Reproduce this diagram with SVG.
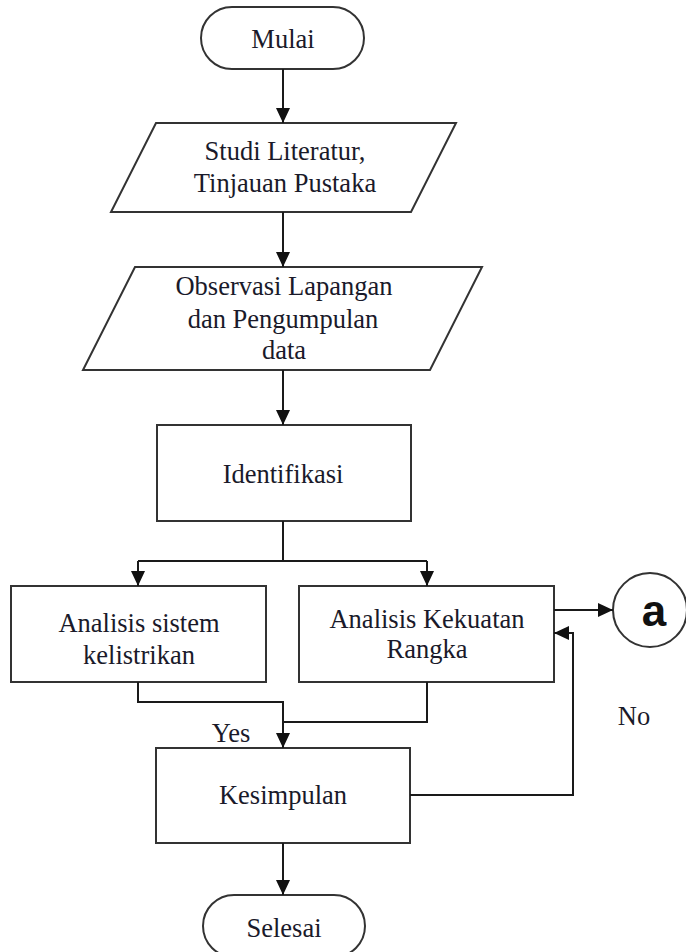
<svg xmlns="http://www.w3.org/2000/svg" width="686" height="952" viewBox="0 0 686 952">
<defs>
<marker id="ah" markerUnits="userSpaceOnUse" markerWidth="15" markerHeight="14" refX="15" refY="7" orient="auto">
<path d="M0,0 L15,7 L0,14 z" fill="#111"/>
</marker>
<style>
.s{fill:#fff;stroke:#333;stroke-width:2}
.t{font-family:"Liberation Serif","Times New Roman",Tinos,serif;font-size:26.5px;fill:#1a1a2a;text-anchor:middle}
.c{fill:none;stroke:#1a1a1a;stroke-width:2}
.a{marker-end:url(#ah)}
</style>
</defs>
<rect width="686" height="952" fill="#fff"/>
<g id="mulai"><rect class="s" x="201" y="7" width="163" height="62" rx="31"/><text class="t" x="283" y="48">Mulai</text></g>
<g id="studi"><polygon class="s" points="156,123 456,123 411,212 111,212"/><text class="t" x="285" y="160">Studi Literatur,</text><text class="t" x="285" y="192">Tinjauan Pustaka</text></g>
<g id="observasi"><polygon class="s" points="135,267 482,267 430,370 83,370"/><text class="t" x="284" y="295">Observasi Lapangan</text><text class="t" x="283" y="328">dan Pengumpulan</text><text class="t" x="284" y="359">data</text></g>
<g id="identifikasi"><rect class="s" x="157" y="425" width="254" height="96"/><text class="t" x="283" y="483">Identifikasi</text></g>
<g id="analisis1"><rect class="s" x="11" y="586" width="255" height="96"/><text class="t" x="139" y="632">Analisis sistem</text><text class="t" x="139" y="664">kelistrikan</text></g>
<g id="analisis2"><rect class="s" x="299" y="586" width="255" height="96"/><text class="t" x="427" y="628">Analisis Kekuatan</text><text class="t" x="427" y="658">Rangka</text></g>
<g id="a"><circle cx="650" cy="610" r="37" fill="#fff" stroke="#333" stroke-width="2"/><text x="654" y="626" font-family="Liberation Sans, Arial, sans-serif" font-size="44" font-weight="bold" text-anchor="middle" fill="#111">a</text></g>
<g id="kesimpulan"><rect class="s" x="156" y="748" width="254" height="95"/><text class="t" x="283" y="804">Kesimpulan</text></g>
<g id="selesai"><rect class="s" x="203" y="895" width="162" height="62" rx="31"/><text class="t" x="284" y="937">Selesai</text></g>
<g id="connectors">
<path class="c a" d="M283,69 V123"/>
<path class="c a" d="M283,212 V267"/>
<path class="c a" d="M283,370 V425"/>
<path class="c" d="M283,521 V561 M138,561 H427"/>
<path class="c a" d="M138,561 V586"/>
<path class="c a" d="M427,561 V586"/>
<path class="c a" d="M138,682 V702 H283 V748"/>
<path class="c" d="M427,682 V722 H283"/>
<path class="c a" d="M554,610 H613"/>
<path class="c a" d="M410,795 H573 V633 H554"/>
<path class="c a" d="M283,843 V895"/>
</g>
<g id="labels">
<text class="t" x="231" y="742">Yes</text>
<text class="t" x="634" y="725">No</text>
</g>
</svg>
